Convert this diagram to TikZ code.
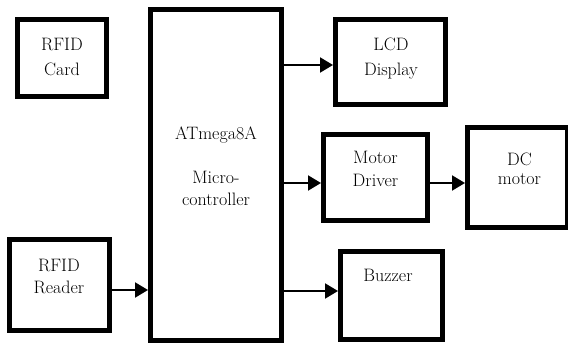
\documentclass[tikz,border=0pt]{standalone}
\usetikzlibrary{arrows.meta}

\begin{document}
\begin{tikzpicture}[
  x=1pt, y=-1pt,
  font=\fontsize{18}{22}\selectfont,
  box/.style={draw, line width=5pt, inner sep=0pt},
  txt/.style={anchor=north, align=center, inner sep=0pt},
  arr/.style={-{Triangle[length=13pt, width=15pt]}, line width=2pt}
]
  \useasboundingbox (0,0) rectangle (568,347);

  % Inputs (left column)
  \node[box, minimum width=88.5pt, minimum height=77pt] (card) at (61.75,58) {};
  \node[txt, font=\fontsize{18}{25}\selectfont] (cardtxt) at (62,37.6) {RFID\\Card};
  \node[box, minimum width=100pt, minimum height=91pt] (reader) at (59.5,285) {};
  \node[txt] (readertxt) at (59,259) {RFID\\Reader};

  % Controller
  \node[box, minimum width=131pt, minimum height=331pt] (mcu) at (216,175) {};
  \node[txt] (mcutxt) at (216,126.8) {ATmega8A\\[22pt]Micro-\\controller};

  % Outputs (right column)
  \node[box, minimum width=110pt, minimum height=85pt] (lcd) at (390.5,62) {};
  \node[txt, font=\fontsize{18}{25}\selectfont] (lcdtxt) at (391,37.4) {LCD\\Display};
  \node[box, minimum width=104pt, minimum height=86pt] (driver) at (375.5,177.5) {};
  \node[txt, font=\fontsize{18}{23}\selectfont] (drivertxt) at (375.5,151.4) {Motor\\Driver};
  \node[box, minimum width=100pt, minimum height=100pt] (motor) at (517.5,177.5) {};
  \node[txt, font=\fontsize{18}{19}\selectfont] (motortxt) at (519.5,153) {DC\\motor};
  \node[box, minimum width=102pt, minimum height=88pt] (buzzer) at (391.5,295.5) {};
  \node[txt] (buzzertxt) at (388,269) {Buzzer};

  \draw[arr] ([yshift=-5pt]reader.east) -- ([yshift=-5pt]reader.east -| mcu.west);
  \draw[arr] ([yshift=-3pt]lcd.west -| mcu.east) -- ([yshift=-3pt]lcd.west);
  \draw[arr] ([yshift=-5.5pt]driver.west -| mcu.east) -- ([yshift=-5.5pt]driver.west);
  \draw[arr] ([yshift=4.5pt]buzzer.west -| mcu.east) -- ([yshift=4.5pt]buzzer.west);
  \draw[arr] ([yshift=-5.5pt]driver.east) -- ([yshift=-5.5pt]motor.west);
\end{tikzpicture}
\end{document}
